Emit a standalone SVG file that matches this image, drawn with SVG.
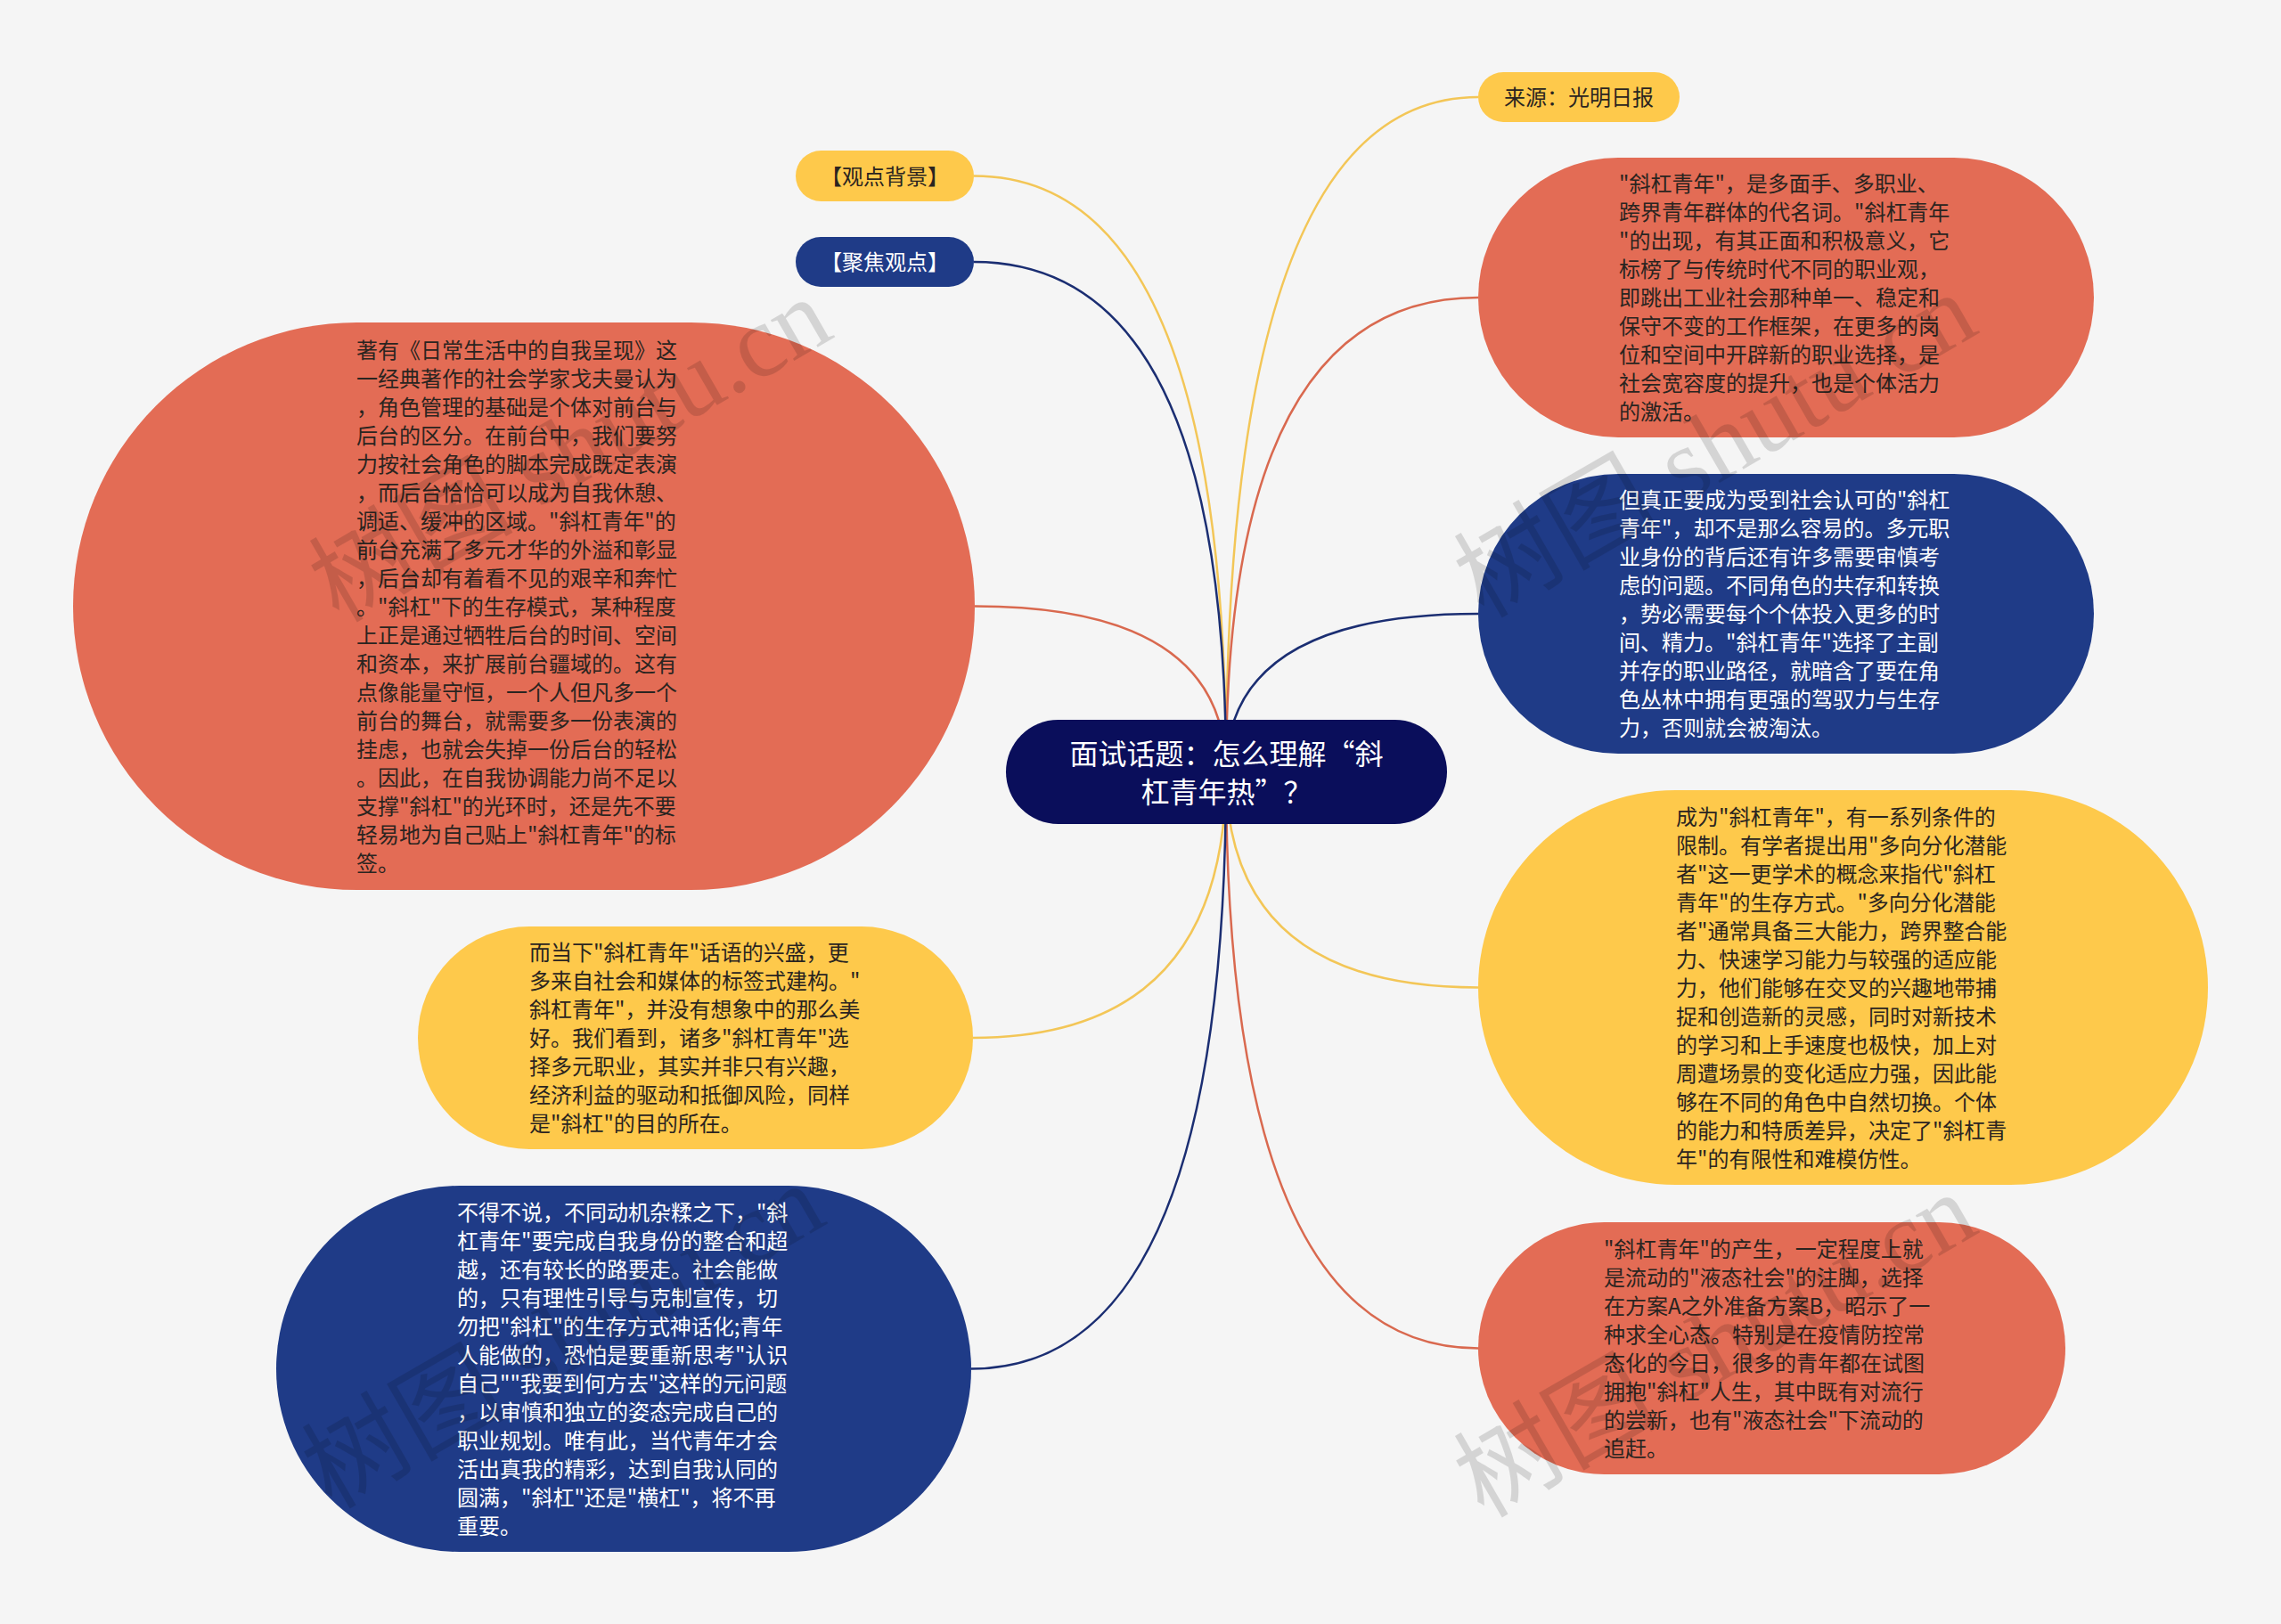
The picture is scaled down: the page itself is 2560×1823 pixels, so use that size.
<svg xmlns="http://www.w3.org/2000/svg" width="2560" height="1823" viewBox="0 0 2560 1823">
<style>
.bg{fill:#f5f5f5}
.red{fill:#e36c55}
.yel{fill:#fec94b}
.blu{fill:#1f3b87}
.root{fill:#0a0e5b}
.t{font-family:"Noto Sans CJK SC","Microsoft YaHei",sans-serif;font-size:24px}
.dk{fill:#2a2420}
.wt{fill:#ffffff}
.c{fill:none;stroke-width:2.5}
.cy{stroke:#f3c657}
.cr{stroke:#d9694f}
.cb{stroke:#1b2e72}
.wm{font-family:"Liberation Serif","Noto Sans CJK SC",serif;font-size:115px;fill:#000;opacity:0.13}
</style>
<rect class="bg" x="0" y="0" width="2560" height="1823"/>
<g id="connectors">
<path class="c cy" d="M1376 866.5 Q1376 109 1659 109"/>
<path class="c cy" d="M1376 866.5 Q1376 1108.5 1659 1108.5"/>
<path class="c cy" d="M1376 866.5 Q1376 197.5 1093 197.5"/>
<path class="c cy" d="M1376 866.5 Q1376 1165 1092 1165"/>
<path class="c cr" d="M1376 866.5 Q1376 334 1659 334"/>
<path class="c cr" d="M1376 866.5 Q1376 1513.5 1659 1513.5"/>
<path class="c cr" d="M1376 866.5 Q1376 680.5 1094 680.5"/>
<path class="c cb" d="M1376 866.5 Q1376 689 1659 689"/>
<path class="c cb" d="M1376 866.5 Q1376 294 1093 294"/>
<path class="c cb" d="M1376 866.5 Q1376 1536.5 1090 1536.5"/>
</g>
<g id="root">
<rect class="root" x="1129" y="808" width="495" height="117" rx="58.5"/>
<text class="t wt" style="font-size:32px" text-anchor="middle"><tspan x="1376.5" y="858">面试话题：怎么理解“斜</tspan><tspan x="1376.5" y="900.5">杠青年热”？</tspan></text>
</g>
<g id="n-source">
<rect class="yel" x="1659" y="81" width="226" height="56" rx="28"/>
<text class="t dk" x="1772" y="118" text-anchor="middle">来源：光明日报</text>
</g>
<g id="n-bg">
<rect class="yel" x="893" y="169" width="200" height="57" rx="28.5"/>
<text class="t dk" x="993" y="206.5" text-anchor="middle">【观点背景】</text>
</g>
<g id="n-focus">
<rect class="blu" x="893" y="266" width="200" height="56" rx="28"/>
<text class="t wt" x="993" y="303" text-anchor="middle">【聚焦观点】</text>
</g>
<g id="n-left-big">
<rect class="red" x="82" y="362" width="1012" height="637" rx="318.5"/>
<text class="t dk">
<tspan x="400" y="401.5">著有《日常生活中的自我呈现》这</tspan>
<tspan x="400" y="433.5">一经典著作的社会学家戈夫曼认为</tspan>
<tspan x="400" y="465.5">，角色管理的基础是个体对前台与</tspan>
<tspan x="400" y="497.5">后台的区分。在前台中，我们要努</tspan>
<tspan x="400" y="529.5">力按社会角色的脚本完成既定表演</tspan>
<tspan x="400" y="561.5">，而后台恰恰可以成为自我休憩、</tspan>
<tspan x="400" y="593.5">调适、缓冲的区域。"斜杠青年"的</tspan>
<tspan x="400" y="625.5">前台充满了多元才华的外溢和彰显</tspan>
<tspan x="400" y="657.5">，后台却有着看不见的艰辛和奔忙</tspan>
<tspan x="400" y="689.5">。"斜杠"下的生存模式，某种程度</tspan>
<tspan x="400" y="721.5">上正是通过牺牲后台的时间、空间</tspan>
<tspan x="400" y="753.5">和资本，来扩展前台疆域的。这有</tspan>
<tspan x="400" y="785.5">点像能量守恒，一个人但凡多一个</tspan>
<tspan x="400" y="817.5">前台的舞台，就需要多一份表演的</tspan>
<tspan x="400" y="849.5">挂虑，也就会失掉一份后台的轻松</tspan>
<tspan x="400" y="881.5">。因此，在自我协调能力尚不足以</tspan>
<tspan x="400" y="913.5">支撑"斜杠"的光环时，还是先不要</tspan>
<tspan x="400" y="945.5">轻易地为自己贴上"斜杠青年"的标</tspan>
<tspan x="400" y="977.5">签。</tspan>
</text>
</g>
<g id="n-left-yellow">
<rect class="yel" x="469" y="1040" width="623" height="250" rx="125"/>
<text class="t dk">
<tspan x="594" y="1078">而当下"斜杠青年"话语的兴盛，更</tspan>
<tspan x="594" y="1110">多来自社会和媒体的标签式建构。"</tspan>
<tspan x="594" y="1142">斜杠青年"，并没有想象中的那么美</tspan>
<tspan x="594" y="1174">好。我们看到，诸多"斜杠青年"选</tspan>
<tspan x="594" y="1206">择多元职业，其实并非只有兴趣，</tspan>
<tspan x="594" y="1238">经济利益的驱动和抵御风险，同样</tspan>
<tspan x="594" y="1270">是"斜杠"的目的所在。</tspan>
</text>
</g>
<g id="n-left-blue">
<rect class="blu" x="310" y="1331" width="780" height="411" rx="205.5"/>
<text class="t wt">
<tspan x="513" y="1369.5">不得不说，不同动机杂糅之下，"斜</tspan>
<tspan x="513" y="1401.5">杠青年"要完成自我身份的整合和超</tspan>
<tspan x="513" y="1433.5">越，还有较长的路要走。社会能做</tspan>
<tspan x="513" y="1465.5">的，只有理性引导与克制宣传，切</tspan>
<tspan x="513" y="1497.5">勿把"斜杠"的生存方式神话化;青年</tspan>
<tspan x="513" y="1529.5">人能做的，恐怕是要重新思考"认识</tspan>
<tspan x="513" y="1561.5">自己""我要到何方去"这样的元问题</tspan>
<tspan x="513" y="1593.5">，以审慎和独立的姿态完成自己的</tspan>
<tspan x="513" y="1625.5">职业规划。唯有此，当代青年才会</tspan>
<tspan x="513" y="1657.5">活出真我的精彩，达到自我认同的</tspan>
<tspan x="513" y="1689.5">圆满，"斜杠"还是"横杠"，将不再</tspan>
<tspan x="513" y="1721.5">重要。</tspan>
</text>
</g>
<g id="n-right-red1">
<rect class="red" x="1659" y="177" width="691" height="314" rx="157"/>
<text class="t dk">
<tspan x="1817" y="215">"斜杠青年"，是多面手、多职业、</tspan>
<tspan x="1817" y="247">跨界青年群体的代名词。"斜杠青年</tspan>
<tspan x="1817" y="279">"的出现，有其正面和积极意义，它</tspan>
<tspan x="1817" y="311">标榜了与传统时代不同的职业观，</tspan>
<tspan x="1817" y="343">即跳出工业社会那种单一、稳定和</tspan>
<tspan x="1817" y="375">保守不变的工作框架，在更多的岗</tspan>
<tspan x="1817" y="407">位和空间中开辟新的职业选择，是</tspan>
<tspan x="1817" y="439">社会宽容度的提升，也是个体活力</tspan>
<tspan x="1817" y="471">的激活。</tspan>
</text>
</g>
<g id="n-right-blue">
<rect class="blu" x="1659" y="532" width="691" height="314" rx="157"/>
<text class="t wt">
<tspan x="1817" y="570">但真正要成为受到社会认可的"斜杠</tspan>
<tspan x="1817" y="602">青年"，却不是那么容易的。多元职</tspan>
<tspan x="1817" y="634">业身份的背后还有许多需要审慎考</tspan>
<tspan x="1817" y="666">虑的问题。不同角色的共存和转换</tspan>
<tspan x="1817" y="698">，势必需要每个个体投入更多的时</tspan>
<tspan x="1817" y="730">间、精力。"斜杠青年"选择了主副</tspan>
<tspan x="1817" y="762">并存的职业路径，就暗含了要在角</tspan>
<tspan x="1817" y="794">色丛林中拥有更强的驾驭力与生存</tspan>
<tspan x="1817" y="826">力，否则就会被淘汰。</tspan>
</text>
</g>
<g id="n-right-yellow">
<rect class="yel" x="1659" y="887" width="819" height="443" rx="221.5"/>
<text class="t dk">
<tspan x="1881" y="925.5">成为"斜杠青年"，有一系列条件的</tspan>
<tspan x="1881" y="957.5">限制。有学者提出用"多向分化潜能</tspan>
<tspan x="1881" y="989.5">者"这一更学术的概念来指代"斜杠</tspan>
<tspan x="1881" y="1021.5">青年"的生存方式。"多向分化潜能</tspan>
<tspan x="1881" y="1053.5">者"通常具备三大能力，跨界整合能</tspan>
<tspan x="1881" y="1085.5">力、快速学习能力与较强的适应能</tspan>
<tspan x="1881" y="1117.5">力，他们能够在交叉的兴趣地带捕</tspan>
<tspan x="1881" y="1149.5">捉和创造新的灵感，同时对新技术</tspan>
<tspan x="1881" y="1181.5">的学习和上手速度也极快，加上对</tspan>
<tspan x="1881" y="1213.5">周遭场景的变化适应力强，因此能</tspan>
<tspan x="1881" y="1245.5">够在不同的角色中自然切换。个体</tspan>
<tspan x="1881" y="1277.5">的能力和特质差异，决定了"斜杠青</tspan>
<tspan x="1881" y="1309.5">年"的有限性和难模仿性。</tspan>
</text>
</g>
<g id="n-right-red2">
<rect class="red" x="1659" y="1372" width="659" height="283" rx="141.5"/>
<text class="t dk">
<tspan x="1800" y="1410.5">"斜杠青年"的产生，一定程度上就</tspan>
<tspan x="1800" y="1442.5">是流动的"液态社会"的注脚，选择</tspan>
<tspan x="1800" y="1474.5">在方案A之外准备方案B，昭示了一</tspan>
<tspan x="1800" y="1506.5">种求全心态。特别是在疫情防控常</tspan>
<tspan x="1800" y="1538.5">态化的今日，很多的青年都在试图</tspan>
<tspan x="1800" y="1570.5">拥抱"斜杠"人生，其中既有对流行</tspan>
<tspan x="1800" y="1602.5">的尝新，也有"液态社会"下流动的</tspan>
<tspan x="1800" y="1634.5">追赶。</tspan>
</text>
</g>
<g id="watermarks">
<text class="wm" x="380" y="700" transform="rotate(-30 380 700)">树图 shutu.cn</text>
<text class="wm" x="1665" y="695" transform="rotate(-30 1665 695)">树图 shutu.cn</text>
<text class="wm" x="1665" y="1705" transform="rotate(-30 1665 1705)">树图 shutu.cn</text>
<text class="wm" x="372" y="1695" transform="rotate(-30 372 1695)">树图 shutu.cn</text>
</g>
</svg>
